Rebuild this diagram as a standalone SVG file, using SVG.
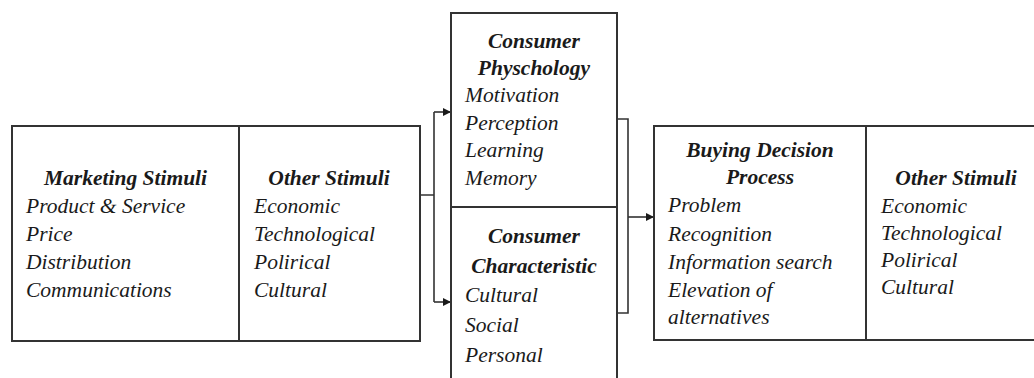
<svg xmlns="http://www.w3.org/2000/svg" width="1034" height="378" viewBox="0 0 1034 378">
<style>
.box{fill:#fff;stroke:#333;stroke-width:2}
.ln{fill:none;stroke:#333;stroke-width:1.6}
text{font-family:"Liberation Serif","Times New Roman",serif;font-size:21.5px;font-style:italic;fill:#1a1a1a}
.t{font-weight:bold;text-anchor:middle}
</style>
<defs>
<marker id="ah" markerWidth="8" markerHeight="8" refX="8" refY="4" orient="auto" markerUnits="userSpaceOnUse">
<path d="M0,0 L8,4 L0,8 Z" fill="#1a1a1a"/>
</marker>
</defs>
<rect width="1034" height="378" fill="#fff"/>
<g id="connectors">
<path class="ln" d="M420,195 H434 M434,112 V302"/>
<path class="ln" d="M434,112 H451" marker-end="url(#ah)"/>
<path class="ln" d="M434,302 H451" marker-end="url(#ah)"/>
<path class="ln" d="M617,119 H628 V313 H617"/>
<path class="ln" d="M628,217 H654" marker-end="url(#ah)"/>
</g>
<g id="marketing-stimuli">
<rect class="box" x="12" y="126" width="227" height="215"/>
<text class="t" x="125.5" y="185">Marketing Stimuli</text>
<text x="26" y="213">Product &amp; Service</text>
<text x="26" y="241">Price</text>
<text x="26" y="269">Distribution</text>
<text x="26" y="297">Communications</text>
</g>
<g id="other-stimuli-left">
<rect class="box" x="239" y="126" width="181" height="215"/>
<text class="t" x="329" y="185">Other Stimuli</text>
<text x="254" y="213">Economic</text>
<text x="254" y="241">Technological</text>
<text x="254" y="269">Polirical</text>
<text x="254" y="297">Cultural</text>
</g>
<g id="consumer-physchology">
<rect class="box" x="451" y="13" width="166" height="194"/>
<text class="t" x="534" y="48">Consumer</text>
<text class="t" x="534" y="75">Physchology</text>
<text x="465" y="102">Motivation</text>
<text x="465" y="130">Perception</text>
<text x="465" y="157">Learning</text>
<text x="465" y="185">Memory</text>
</g>
<g id="consumer-characteristic">
<rect class="box" x="451" y="207" width="166" height="180"/>
<text class="t" x="534" y="243">Consumer</text>
<text class="t" x="534" y="273">Characteristic</text>
<text x="465" y="302">Cultural</text>
<text x="465" y="332">Social</text>
<text x="465" y="362">Personal</text>
</g>
<g id="buying-decision-process">
<rect class="box" x="654" y="126" width="212" height="214"/>
<text class="t" x="760" y="157">Buying Decision</text>
<text class="t" x="760" y="184">Process</text>
<text x="668" y="212">Problem</text>
<text x="668" y="241">Recognition</text>
<text x="668" y="269">Information search</text>
<text x="668" y="297">Elevation of</text>
<text x="668" y="324">alternatives</text>
</g>
<g id="other-stimuli-right">
<rect class="box" x="866" y="126" width="180" height="214"/>
<text class="t" x="956" y="185">Other Stimuli</text>
<text x="881" y="213">Economic</text>
<text x="881" y="240">Technological</text>
<text x="881" y="267">Polirical</text>
<text x="881" y="294">Cultural</text>
</g>
</svg>
